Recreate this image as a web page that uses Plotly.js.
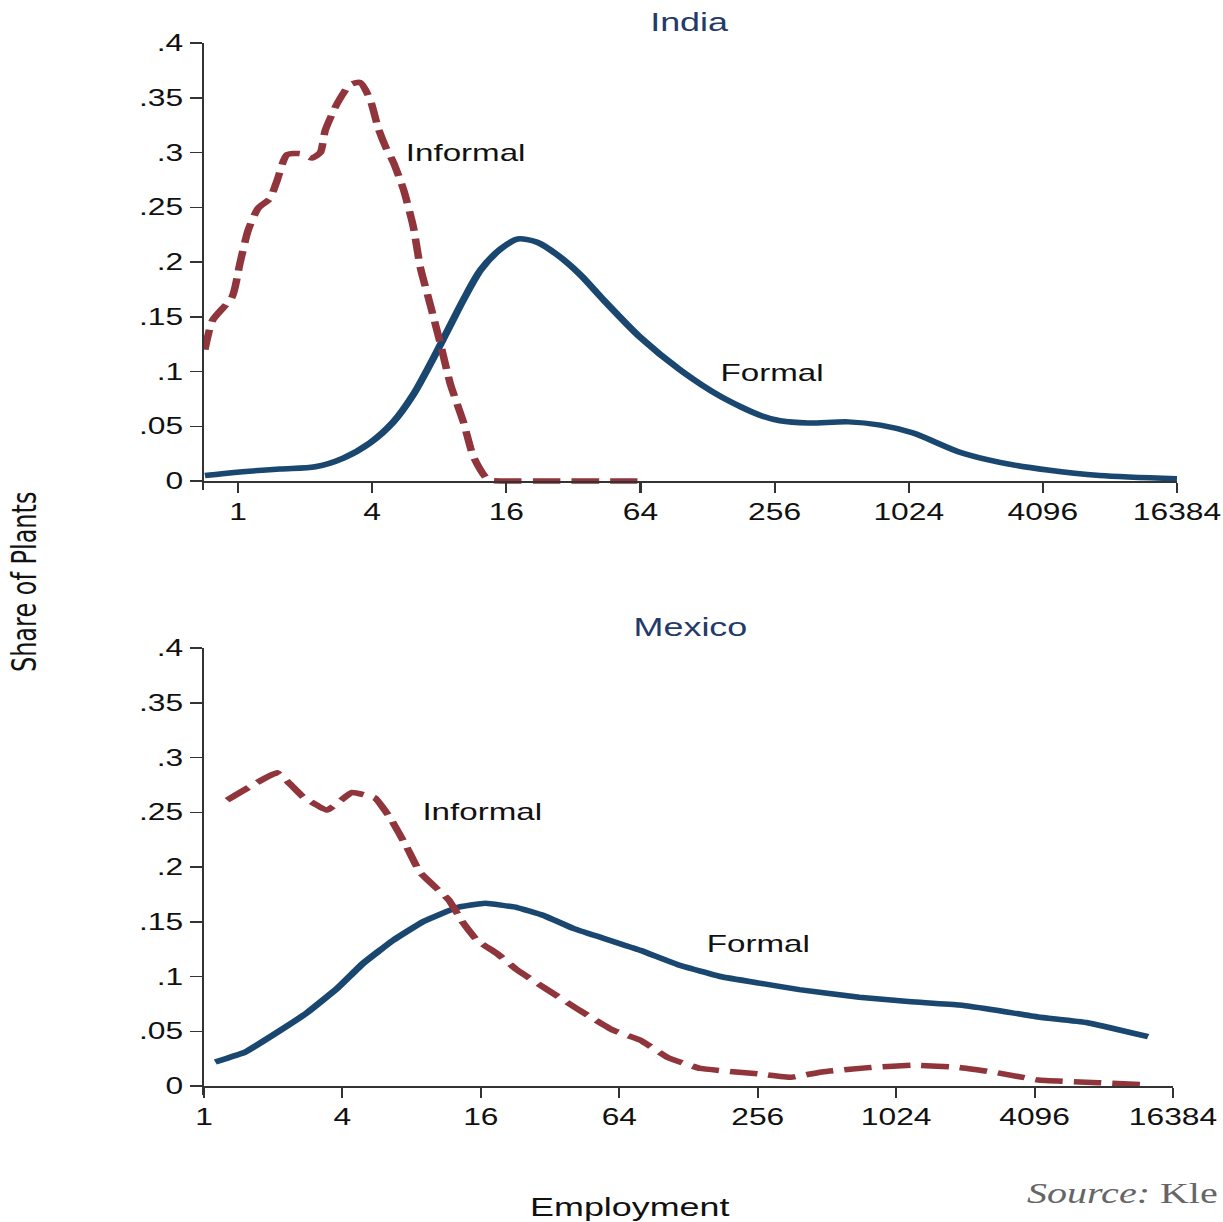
<!DOCTYPE html>
<html>
<head>
<meta charset="utf-8">
<script src="https://cdn.plot.ly/plotly-3.0.1.min.js"></script>
<style>
  html, body { margin: 0; padding: 0; background: #ffffff; }
  #wrap { width: 1223px; height: 1222px; overflow: hidden; position: relative; }
  #plot { width: 886px; height: 1222px; transform: scaleX(1.38036); transform-origin: 0 0; }
</style>
</head>
<body>
<div id="wrap"><div id="plot"></div></div>
<script>
// ---------- data ----------
const xTickVals = [1, 4, 16, 64, 256, 1024, 4096, 16384];
const xTickText = ["1", "4", "16", "64", "256", "1024", "4096", "16384"];
const yTickVals = [0, 0.05, 0.1, 0.15, 0.2, 0.25, 0.3, 0.35, 0.4];
const yTickText = ["0", ".05", ".1", ".15", ".2", ".25", ".3", ".35", ".4"];

// India
const indiaFormalX = [0.71, 0.99, 1.54, 2.22, 2.97, 3.92, 4.98, 6.12, 7.30, 8.70, 10.3, 12.3, 15.1, 18.0, 22.0, 27.3, 34.5, 42.5, 64, 97, 147, 220, 271, 362, 548, 764, 1064, 1750, 2624, 4300, 7370, 16384];
const indiaFormalY = [0.005, 0.008, 0.011, 0.013, 0.021, 0.035, 0.054, 0.079, 0.107, 0.137, 0.166, 0.193, 0.212, 0.221, 0.218, 0.206, 0.188, 0.168, 0.131, 0.101, 0.077, 0.060, 0.055, 0.053, 0.054, 0.051, 0.044, 0.026, 0.017, 0.010, 0.005, 0.002];
const indiaInformalX = [0.71, 0.77, 0.94, 1.02, 1.11, 1.23, 1.39, 1.50, 1.66, 1.90, 2.15, 2.34, 2.46, 2.79, 3.18, 3.53, 3.92, 4.26, 4.60, 4.98, 5.53, 6.12, 6.58, 7.29, 8.08, 8.96, 10.3, 11.4, 13.3, 16, 24, 32, 48, 64];
const indiaInformalY = [0.120, 0.147, 0.168, 0.199, 0.229, 0.249, 0.258, 0.275, 0.298, 0.299, 0.295, 0.300, 0.320, 0.345, 0.362, 0.364, 0.348, 0.322, 0.305, 0.291, 0.266, 0.232, 0.195, 0.161, 0.126, 0.089, 0.053, 0.022, 0.001, 0, 0, 0, 0, 0];

// Mexico
const mexicoFormalX = [1.12, 1.51, 2.08, 2.81, 3.79, 4.92, 6.64, 8.96, 12.6, 16.7, 23.0, 29.8, 40.3, 54.5, 78.8, 118, 176, 260, 388, 708, 1190, 1924, 2840, 4240, 6880, 12770];
const mexicoFormalY = [0.022, 0.031, 0.049, 0.067, 0.089, 0.112, 0.133, 0.150, 0.163, 0.167, 0.163, 0.156, 0.144, 0.135, 0.124, 0.110, 0.100, 0.094, 0.088, 0.081, 0.077, 0.074, 0.069, 0.063, 0.058, 0.045];
const mexicoInformalX = [1.26, 2.08, 2.70, 3.43, 4.40, 5.55, 6.45, 7.63, 8.70, 11.6, 13.4, 15.4, 18.8, 23.0, 31.1, 43.1, 60.1, 78.8, 104, 144, 260, 357, 494, 798, 1236, 1924, 2840, 4240, 7740, 13000];
const mexicoInformalY = [0.261, 0.286, 0.264, 0.252, 0.268, 0.263, 0.245, 0.218, 0.195, 0.170, 0.149, 0.133, 0.121, 0.106, 0.088, 0.069, 0.051, 0.042, 0.026, 0.016, 0.011, 0.008, 0.013, 0.017, 0.019, 0.017, 0.012, 0.0055, 0.003, 0.001];

// ---------- styles ----------
const NAVY = "#1a476f";
const MAROON = "#90353b";
const AXIS = "#333333";
const FONT = "Liberation Sans, Arial, Helvetica, sans-serif";

const traces = [
  { x: indiaFormalX, y: indiaFormalY, xaxis: "x", yaxis: "y", mode: "lines",
    line: { color: NAVY, width: 5.5, shape: "spline", smoothing: 0.8 }, hoverinfo: "skip" },
  { x: indiaInformalX, y: indiaInformalY, xaxis: "x", yaxis: "y", mode: "lines",
    line: { color: MAROON, width: 5.5, dash: "20px,8px", shape: "spline", smoothing: 0.6 }, hoverinfo: "skip" },
  { x: mexicoFormalX, y: mexicoFormalY, xaxis: "x2", yaxis: "y2", mode: "lines",
    line: { color: NAVY, width: 5.5, shape: "spline", smoothing: 0.3 }, hoverinfo: "skip" },
  { x: mexicoInformalX, y: mexicoInformalY, xaxis: "x2", yaxis: "y2", mode: "lines",
    line: { color: MAROON, width: 5.5, dash: "20px,8px", shape: "spline", smoothing: 0.3 }, hoverinfo: "skip" }
];

function xAxis(domain, range, pos) {
  return {
    type: "log", domain: domain, range: range, anchor: "free", position: pos,
    tickmode: "array", tickvals: xTickVals, ticktext: xTickText,
    ticks: "outside", ticklen: 10, tickwidth: 1.5, tickcolor: AXIS,
    showline: true, linecolor: AXIS, linewidth: 1.5,
    showgrid: false, zeroline: false,
    tickfont: { family: FONT, size: 23, color: "#111111" }
  };
}
function yAxis(domain, anchor) {
  return {
    domain: domain, range: [-0.008, 0.4], anchor: anchor,
    tickmode: "array", tickvals: yTickVals, ticktext: yTickText,
    ticks: "outside", ticklen: 9, tickwidth: 1.5, tickcolor: AXIS,
    showline: true, linecolor: AXIS, linewidth: 1.5,
    showgrid: false, zeroline: false,
    tickfont: { family: FONT, size: 23, color: "#111111" }
  };
}

const lbl = (text, x, y, opts) => Object.assign({
  text: text, x: x, y: y, xref: "paper", yref: "paper",
  showarrow: false, xanchor: "left", yanchor: "middle",
  font: { family: FONT, size: 24, color: "#111111" }
}, opts || {});

const layout = {
  width: 886, height: 1222,
  margin: { l: 0, r: 0, t: 0, b: 0 },
  paper_bgcolor: "#ffffff", plot_bgcolor: "#ffffff",
  showlegend: false,
  xaxis: xAxis([0.16680, 0.96239], [-0.1529, 4.21442], 0.60638),
  yaxis: yAxis([0.59921, 0.96481], "x"),
  xaxis2: xAxis([0.16680, 0.95912], [0, 4.21442], 0.11129),
  yaxis2: yAxis([0.10412, 0.46972], "x2"),
  annotations: [
    lbl("India", 0.5642, 0.98200, { xanchor: "center", font: { family: FONT, size: 26, color: "#233a6a" } }),
    lbl("Mexico", 0.5642, 0.48691, { xanchor: "center", font: { family: FONT, size: 26, color: "#233a6a" } }),
    lbl("Informal", 0.32950, 0.87480),
    lbl("Formal", 0.58705, 0.69558),
    lbl("Informal", 0.34258, 0.33633),
    lbl("Formal", 0.57560, 0.22831),
    lbl("Share of Plants", 0.02044, 0.52373, { xanchor: "center", textangle: -90, font: { family: "DejaVu Sans, Verdana, sans-serif", size: 24, color: "#111111" } }),
    lbl("Employment", 0.51513, 0.01227, { xanchor: "center", font: { family: FONT, size: 26, color: "#111111" } }),
    lbl("<i>Source:</i> Kle", 0.99750, 0.02373, { xanchor: "right", font: { family: "Liberation Serif, Times New Roman, serif", size: 29, color: "#666666" } })
  ]
};

Plotly.newPlot("plot", traces, layout, { displayModeBar: false, staticPlot: true });
</script>
</body>
</html>
